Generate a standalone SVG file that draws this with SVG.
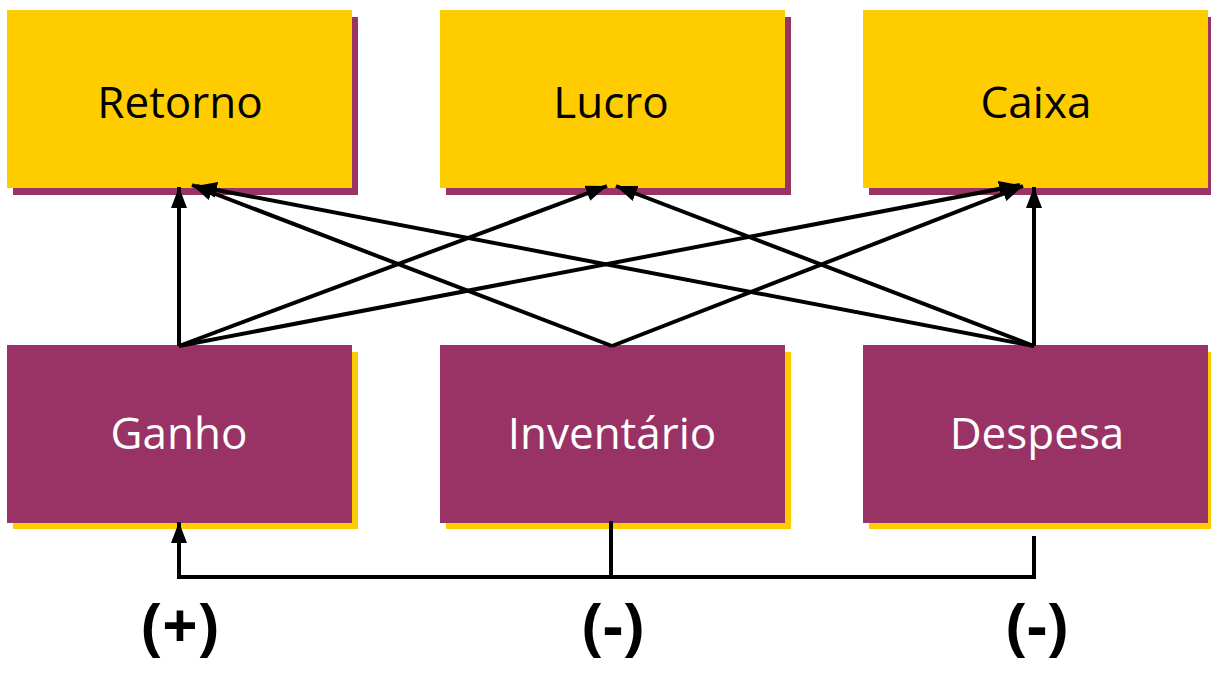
<svg xmlns="http://www.w3.org/2000/svg" width="1211" height="674" viewBox="0 0 1211 674">
  <style>
    .top rect.face { fill: #FFCC00; }
    .top rect.shadow { fill: #993366; }
    .bot rect.face { fill: #993366; }
    .bot rect.shadow { fill: #FFCC00; }
    text { font-family: "Comic Sans MS", "Open Sans", "DejaVu Sans", sans-serif; text-anchor: middle; }
    .top text { font-size: 44px; fill: #000; }
    .bot text { font-size: 44px; fill: #fff; }
    .conn path { fill: none; stroke: #000; stroke-width: 4; stroke-linejoin: miter; }
    .sign { font-size: 62px; font-weight: bold; fill: #000; }
  </style>
  <defs>
    <marker id="arrow" markerUnits="userSpaceOnUse" markerWidth="21" markerHeight="16" refX="21" refY="8" orient="auto">
      <path d="M0,0 L21,8 L0,16 z" fill="#000"/>
    </marker>
  </defs>
  <rect width="1211" height="674" fill="#fff"/>

  <!-- result measures -->
  <g id="retorno" class="top">
    <rect class="shadow" x="13" y="17" width="345" height="178"/>
    <rect class="face" x="7" y="10" width="345" height="178"/>
    <text x="180" y="118">Retorno</text>
  </g>
  <g id="lucro" class="top">
    <rect class="shadow" x="446" y="17" width="345" height="178"/>
    <rect class="face" x="440" y="10" width="345" height="178"/>
    <text x="611" y="118">Lucro</text>
  </g>
  <g id="caixa" class="top">
    <rect class="shadow" x="869" y="17" width="345" height="178"/>
    <rect class="face" x="863" y="10" width="345" height="178"/>
    <text x="1036" y="118">Caixa</text>
  </g>

  <!-- operational measures -->
  <g id="ganho" class="bot">
    <rect class="shadow" x="13" y="352" width="345" height="177"/>
    <rect class="face" x="7" y="345" width="345" height="178"/>
    <text x="179" y="449">Ganho</text>
  </g>
  <g id="inventario" class="bot">
    <rect class="shadow" x="446" y="352" width="345" height="177"/>
    <rect class="face" x="440" y="345" width="345" height="178"/>
    <text x="612" y="449">Inventário</text>
  </g>
  <g id="despesa" class="bot">
    <rect class="shadow" x="869" y="352" width="345" height="177"/>
    <rect class="face" x="863" y="345" width="345" height="178"/>
    <text x="1037" y="449">Despesa</text>
  </g>

  <g id="connectors" class="conn">
    <path d="M179,346 L179,187" marker-end="url(#arrow)"/>
    <path d="M179,346 L607,186" marker-end="url(#arrow)"/>
    <path d="M179,346 L1020,185" marker-end="url(#arrow)"/>
    <path d="M612,346 L192,185" marker-end="url(#arrow)"/>
    <path d="M612,346 L1023,186" marker-end="url(#arrow)"/>
    <path d="M1034,346 L196,186" marker-end="url(#arrow)"/>
    <path d="M1034,346 L616,186" marker-end="url(#arrow)"/>
    <path d="M1034,346 L1034,187" marker-end="url(#arrow)"/>
    <path d="M611,521 V577"/>
    <path d="M1034,536 V577 H179 V522" marker-end="url(#arrow)"/>
  </g>

  <g id="signs">
    <text class="sign" x="180" y="648">(+)</text>
    <text class="sign" x="613" y="648">(-)</text>
    <text class="sign" x="1037" y="648">(-)</text>
  </g>
</svg>
